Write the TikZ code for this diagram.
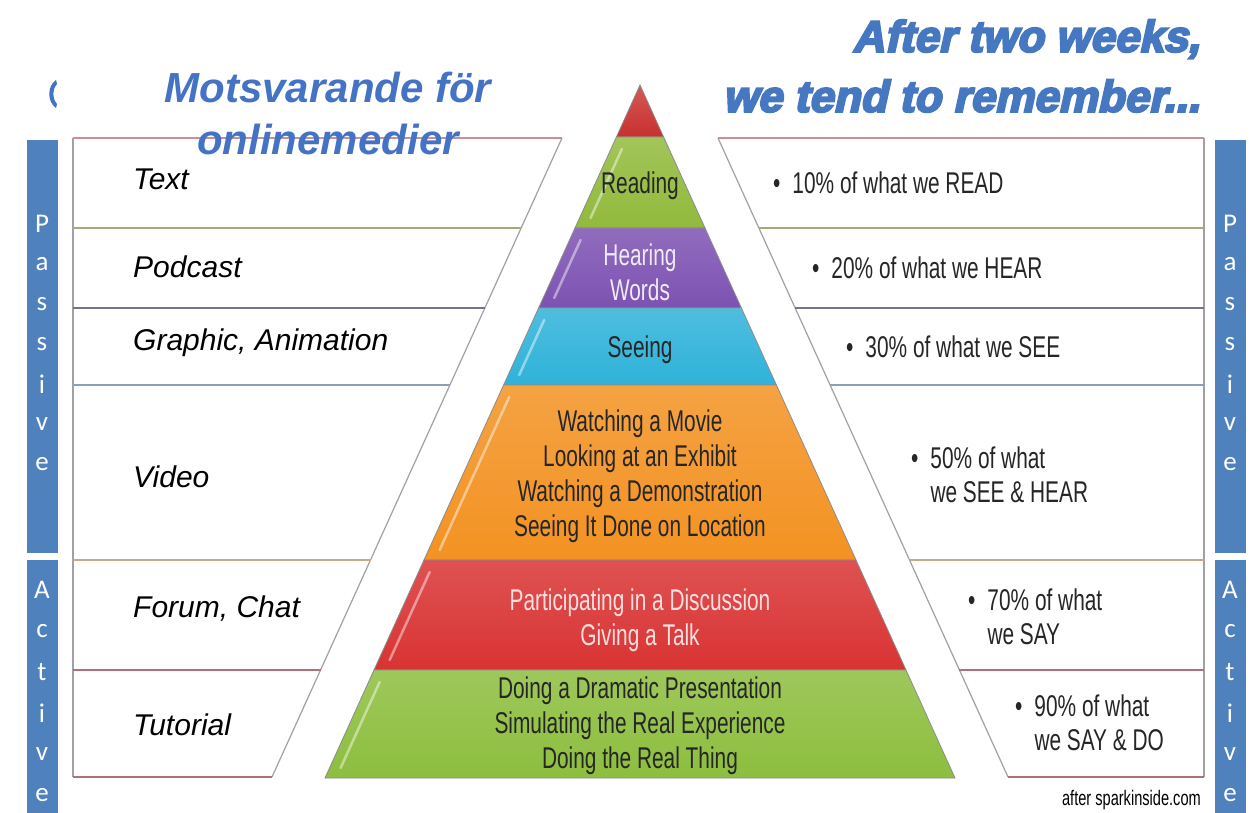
\documentclass[tikz,border=0pt]{standalone}
\usepackage{fontspec}
\setmainfont{Liberation Sans}
\newfontfamily\narrowf[FakeStretch=0.695]{Liberation Sans}
\newfontfamily\heavyf[FakeBold=5,FakeSlant=0.22]{Liberation Sans Bold}
\newfontfamily\barf{Carlito}
\definecolor{barblue}{HTML}{4F81BD}
\definecolor{titleblue}{HTML}{4472C4}
\definecolor{headblue}{HTML}{4678C2}
\definecolor{ptop}{HTML}{C8302E}
\definecolor{pread}{HTML}{92BA3C}
\definecolor{phear}{HTML}{7D52B2}
\definecolor{psee}{HTML}{2FB2D9}
\definecolor{pwatch}{HTML}{F39222}
\definecolor{ptalk}{HTML}{D93333}
\definecolor{pdo}{HTML}{8DBE3E}
\definecolor{lnA}{HTML}{C89092}
\definecolor{lnB}{HTML}{A8A878}
\definecolor{lnC}{HTML}{7A7088}
\definecolor{lnD}{HTML}{8AA0B4}
\definecolor{lnE}{HTML}{C8A888}
\definecolor{lnF}{HTML}{B07078}
\definecolor{edge}{HTML}{A0A0A8}
\tikzset{
  layer/.style={draw=black!45, line width=0.8pt},
  ptext/.style={font=\narrowf\fontsize{30}{35}\selectfont, align=center, inner sep=0pt},
  rtext/.style={font=\narrowf\fontsize{30}{34}\selectfont, align=left, anchor=west, inner sep=0pt, text=black!85},
  ltext/.style={font=\itshape\fontsize{30}{34}\selectfont, anchor=west, inner sep=0pt, text=black},
  barletter/.style={font=\barf\fontsize{27}{27}\selectfont, text=white, inner sep=0pt},
  rowline/.style={line width=1.6pt},
  edgeline/.style={line width=1.2pt, draw=edge},
  gloss/.style={draw=white, opacity=0.45, line width=2.5pt, line cap=round}
}
\newcommand{\bul}{\textbullet\hspace{12pt}}
\begin{document}
\begin{tikzpicture}[x=1pt,y=-1pt]
\useasboundingbox (0,0) rectangle (1256,813);
\fill[white] (0,0) rectangle (1256,813);

% side bars
\fill[barblue] (27,140) rectangle (58,553);
\fill[barblue] (27,560) rectangle (58,813);
\fill[barblue] (1215,140) rectangle (1246,553);
\fill[barblue] (1215,560) rectangle (1246,813);
\foreach \ch [count=\i] in {P,a,s,s,i,v,e}{
  \node[barletter] (lp\i) at (42,{184+40*\i}) {\ch};
  \node[barletter] (rp\i) at (1230,{184+40*\i}) {\ch};
}
\foreach \ch [count=\i] in {A,c,t,i,v,e}{
  \node[barletter] (la\i) at (42,{549+41*\i}) {\ch};
  \node[barletter] (ra\i) at (1230,{549+41*\i}) {\ch};
}

% left boxes
\fill[white] (73,138) -- (562,138) -- (272,777) -- (73,777) -- cycle;
\draw[edgeline] (73,138) -- (73,777);
\draw[edgeline] (562,138) -- (272,777);
\draw[rowline, lnA] (73,138) -- (562,138);
\draw[rowline, lnB] (73,228) -- (521,228);
\draw[rowline, lnC] (73,308) -- (485,308);
\draw[rowline, lnD] (73,385) -- (450,385);
\draw[rowline, lnE] (73,560) -- (371,560);
\draw[rowline, lnF] (73,670) -- (321,670);
\draw[rowline, lnF] (73,777) -- (272,777);

% right boxes
\fill[white] (718,138) -- (1204,138) -- (1204,777) -- (1008,777) -- cycle;
\draw[edgeline] (1204,138) -- (1204,777);
\draw[edgeline] (718,138) -- (1008,777);
\draw[rowline, lnA] (718,138) -- (1204,138);
\draw[rowline, lnB] (759,228) -- (1204,228);
\draw[rowline, lnC] (795,308) -- (1204,308);
\draw[rowline, lnD] (830,385) -- (1204,385);
\draw[rowline, lnE] (910,560) -- (1204,560);
\draw[rowline, lnF] (959,670) -- (1204,670);
\draw[rowline, lnF] (1008,777) -- (1204,777);

% pyramid layers
\shade[layer, top color=ptop!80!white, bottom color=ptop] (640,85) -- (663.6,137) -- (616.4,137) -- cycle;
\shade[layer, top color=pread!85!white, bottom color=pread] (616.4,137) -- (663.6,137) -- (705,228) -- (575,228) -- cycle;
\shade[layer, top color=phear!85!white, bottom color=phear] (575,228) -- (705,228) -- (741.4,308) -- (538.6,308) -- cycle;
\shade[layer, top color=psee!85!white, bottom color=psee] (538.6,308) -- (741.4,308) -- (776.4,385) -- (503.6,385) -- cycle;
\shade[layer, top color=pwatch!85!white, bottom color=pwatch] (503.6,385) -- (776.4,385) -- (856,560) -- (424,560) -- cycle;
\shade[layer, top color=ptalk!85!white, bottom color=ptalk] (424,560) -- (856,560) -- (906,670) -- (374,670) -- cycle;
\shade[layer, top color=pdo!85!white, bottom color=pdo] (374,670) -- (906,670) -- (955,778) -- (325,778) -- cycle;
% glossy edge highlights
\foreach \a/\b in {137/228,228/308,308/385,385/560,560/670,670/778}{
  \draw[gloss] ({640-0.4545*(\a+12-85)+11},\a+12) -- ({640-0.4545*(\b-10-85)+11},\b-10);
}

% pyramid texts
\node[ptext, text=black!85] (reading) at (640,186) {Reading};
\node[ptext, text=white!88!phear] (hearing) at (640,272) {Hearing\\Words};
\node[ptext, text=black!85] (seeing) at (640,350) {Seeing};
\node[ptext, text=black!85] (watching) at (640,476) {Watching a Movie\\Looking at an Exhibit\\Watching a Demonstration\\Seeing It Done on Location};
\node[ptext, text=white!85!ptalk] (talk) at (640,620) {Participating in a Discussion\\Giving a Talk};
\node[ptext, text=black!85] (doing) at (640,726) {Doing a Dramatic Presentation\\Simulating the Real Experience\\Doing the Real Thing};

% left labels
\node[ltext] (ltext1) at (133,179) {Text};
\node[ltext] (ltext2) at (133,267) {Podcast};
\node[ltext] (ltext3) at (133,343) {Graphic, Animation};
\node[ltext] (ltext4) at (133,477) {Video};
\node[ltext] (ltext5) at (133,609) {Forum, Chat};
\node[ltext] (ltext6) at (133,725) {Tutorial};

% right labels
\node[rtext] (r1) at (773,183) {\bul 10\% of what we READ};
\node[rtext] (r2) at (812,268) {\bul 20\% of what we HEAR};
\node[rtext] (r3) at (846,347) {\bul 30\% of what we SEE};
\node[rtext] (r4) at (911,475) {\bul 50\% of what\\\phantom{\bul}we SEE \& HEAR};
\node[rtext] (r5) at (968,617) {\bul 70\% of what\\\phantom{\bul}we SAY};
\node[rtext] (r6) at (1015,723) {\bul 90\% of what\\\phantom{\bul}we SAY \& DO};

\node[font=\narrowf\fontsize{21}{24}\selectfont, anchor=east, inner sep=0pt] (credit) at (1201,800) {after sparkinside.com};

% titles
\fill[white] (48,57) rectangle (522,122);
\fill[titleblue] (56,80) .. controls (47,86) and (47,102) .. (56,108) -- (57,104) .. controls (52,98) and (52,90) .. (57,84) -- cycle;
\node[font=\bfseries\itshape\fontsize{42}{52}\selectfont, text=titleblue, align=center, inner sep=0pt] (mots) at (328,114) {Motsvarande för\\onlinemedier};
\node[font=\heavyf\fontsize{44}{60}\selectfont, text=headblue, align=right, anchor=east, inner sep=0pt] (after) at (1200,66) {After two weeks,\\we tend to remember...};
\end{tikzpicture}
\end{document}
